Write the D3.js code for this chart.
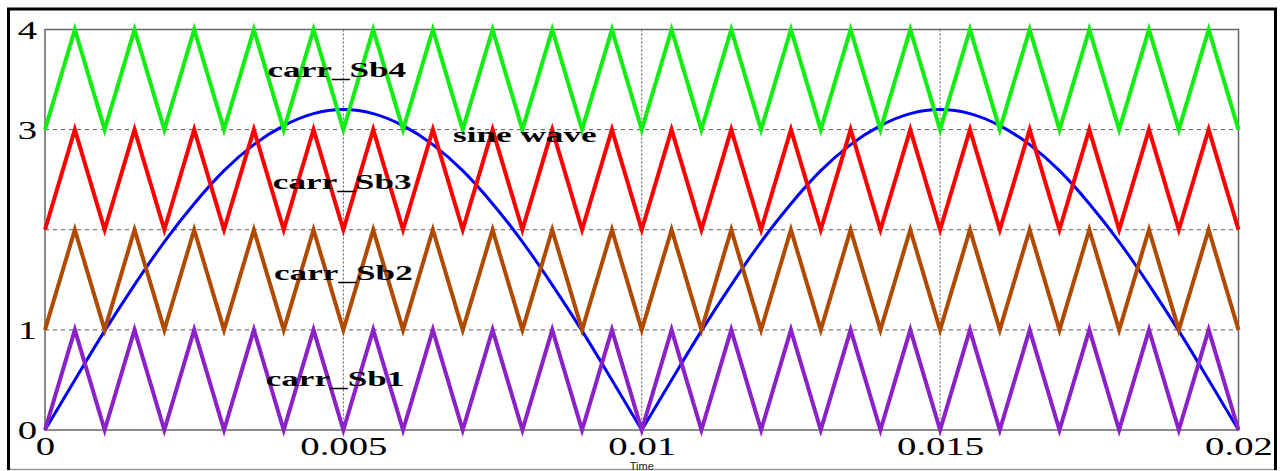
<!DOCTYPE html>
<html>
<head>
<meta charset="utf-8">
<script src="https://cdn.jsdelivr.net/npm/d3@7"></script>
<style>
  body { margin: 0; background: #fff; }
  svg { display: block; }
</style>
</head>
<body>
<div id="chart"></div>
<script>
// carrier vertex times (s), one vertex every half carrier period
var vertexTimes = [0, 0.0005, 0.001, 0.0015, 0.002, 0.0025, 0.003, 0.0035, 0.004, 0.0045,
    0.005, 0.0055, 0.006, 0.0065, 0.007, 0.0075, 0.008, 0.0085, 0.009, 0.0095,
    0.01, 0.0105, 0.011, 0.0115, 0.012, 0.0125, 0.013, 0.0135, 0.014, 0.0145,
    0.015, 0.0155, 0.016, 0.0165, 0.017, 0.0175, 0.018, 0.0185, 0.019, 0.0195, 0.02];

var carrSb1 = [0, 1, 0, 1, 0, 1, 0, 1, 0, 1, 0, 1, 0, 1, 0, 1, 0, 1, 0, 1, 0,
    1, 0, 1, 0, 1, 0, 1, 0, 1, 0, 1, 0, 1, 0, 1, 0, 1, 0, 1, 0];
var carrSb2 = [1, 2, 1, 2, 1, 2, 1, 2, 1, 2, 1, 2, 1, 2, 1, 2, 1, 2, 1, 2, 1,
    2, 1, 2, 1, 2, 1, 2, 1, 2, 1, 2, 1, 2, 1, 2, 1, 2, 1, 2, 1];
var carrSb3 = [2, 3, 2, 3, 2, 3, 2, 3, 2, 3, 2, 3, 2, 3, 2, 3, 2, 3, 2, 3, 2,
    3, 2, 3, 2, 3, 2, 3, 2, 3, 2, 3, 2, 3, 2, 3, 2, 3, 2, 3, 2];
var carrSb4 = [3, 4, 3, 4, 3, 4, 3, 4, 3, 4, 3, 4, 3, 4, 3, 4, 3, 4, 3, 4, 3,
    4, 3, 4, 3, 4, 3, 4, 3, 4, 3, 4, 3, 4, 3, 4, 3, 4, 3, 4, 3];

// sine wave at the same times
var sineWave = [0, 0.50, 0.99, 1.45, 1.88, 2.26, 2.59, 2.85, 3.04, 3.16,
    3.2, 3.16, 3.04, 2.85, 2.59, 2.26, 1.88, 1.45, 0.99, 0.50,
    0, 0.50, 0.99, 1.45, 1.88, 2.26, 2.59, 2.85, 3.04, 3.16,
    3.2, 3.16, 3.04, 2.85, 2.59, 2.26, 1.88, 1.45, 0.99, 0.50, 0];

var xTicks = [0, 0.005, 0.01, 0.015, 0.02];
var xTickLabels = ["0", "0.005", "0.01", "0.015", "0.02"];
var yTicks = [0, 1, 3, 4];
var yGrid = [1, 2, 3];
var xGrid = [0.005, 0.01, 0.015];

var seriesNames = ["carr_Sb1", "carr_Sb2", "carr_Sb3", "carr_Sb4"];
var seriesColors = ["#8a22c8", "#b04a00", "#ff0000", "#11ee11"];

var W = 1280, H = 471;
var plot = { left: 45, right: 1238.5, top: 29.5, bottom: 430 };
var stretch = 1.55; // the picture's text is stretched sideways

var x = d3.scaleLinear().domain([0, 0.02]).range([plot.left, plot.right]);
var y = d3.scaleLinear().domain([0, 4]).range([plot.bottom, plot.top]);

var svg = d3.select("#chart").append("svg")
    .attr("width", W)
    .attr("height", H);

// outer frame
svg.append("line")
    .attr("x1", 8).attr("x2", 1277).attr("y1", 469.5).attr("y2", 469.5)
    .style("stroke", "#999").style("stroke-width", 1.5);
svg.append("path")
    .attr("d", "M8.5,470 V9 H1275.5 V470")
    .style("fill", "none")
    .style("stroke", "#000")
    .style("stroke-width", 3);

// grid
svg.selectAll(".hgrid")
    .data(yGrid)
    .enter().append("line")
    .attr("class", "hgrid")
    .attr("x1", plot.left).attr("x2", plot.right)
    .attr("y1", function (d) { return y(d); })
    .attr("y2", function (d) { return y(d); })
    .style("stroke", "#555")
    .style("stroke-width", 1)
    .style("stroke-dasharray", "4,4");

svg.selectAll(".vgrid")
    .data(xGrid)
    .enter().append("line")
    .attr("class", "vgrid")
    .attr("x1", function (d) { return x(d); })
    .attr("x2", function (d) { return x(d); })
    .attr("y1", plot.top).attr("y2", plot.bottom)
    .style("stroke", "#555")
    .style("stroke-width", 1)
    .style("stroke-dasharray", "2,2");

// plot box
svg.append("rect")
    .attr("x", plot.left).attr("y", plot.top)
    .attr("width", plot.right - plot.left)
    .attr("height", plot.bottom - plot.top)
    .style("fill", "none")
    .style("stroke", "#666")
    .style("stroke-width", 1.5);

// sine wave, drawn per half period so the cusp stays sharp
var sineLine = d3.line()
    .x(function (d) { return x(d[0]); })
    .y(function (d) { return y(d[1]); })
    .curve(d3.curveMonotoneX);

var sinePts = vertexTimes.map(function (t, i) { return [t, sineWave[i]]; });
[sinePts.slice(0, 21), sinePts.slice(20)].forEach(function (half) {
    svg.append("path")
        .attr("d", sineLine(half))
        .style("fill", "none")
        .style("stroke", "#0000ff")
        .style("stroke-width", 3);
});

// carriers
var carriers = [carrSb1, carrSb2, carrSb3, carrSb4];
var carrLine = d3.line()
    .x(function (d) { return x(d[0]); })
    .y(function (d) { return y(d[1]); });

carriers.forEach(function (vals, k) {
    svg.append("path")
        .attr("class", "carrier " + seriesNames[k])
        .attr("d", carrLine(vertexTimes.map(function (t, i) { return [t, vals[i]]; })))
        .style("fill", "none")
        .style("stroke", seriesColors[k])
        .style("stroke-width", 4)
        .style("stroke-linejoin", "miter");
});

// axes
var xAxis = d3.axisBottom(x)
    .tickValues(xTicks)
    .tickSize(0)
    .tickFormat(function (d, i) { return xTickLabels[i]; });

var gx = svg.append("g")
    .attr("transform", "translate(0," + plot.bottom + ")")
    .call(xAxis);
gx.select(".domain").remove();
gx.selectAll("text")
    .attr("y", 25)
    .attr("dy", 0)
    .attr("transform", "scale(" + stretch + ",1)")
    .style("font-family", "'Liberation Serif', 'Times New Roman', serif")
    .style("font-size", "25px")
    .style("fill", "#000");

var yAxis = d3.axisLeft(y)
    .tickValues(yTicks)
    .tickSize(0)
    .tickFormat(d3.format("d"));

var gy = svg.append("g")
    .attr("transform", "translate(" + plot.left + ",0)")
    .call(yAxis);
gy.select(".domain").remove();
gy.selectAll("text")
    .attr("x", -8 / stretch)
    .attr("dy", "0.34em")
    .attr("transform", "scale(" + stretch + ",1)")
    .style("font-family", "'Liberation Serif', 'Times New Roman', serif")
    .style("font-size", "25px")
    .style("fill", "#000");

// x axis title
svg.append("text")
    .attr("x", x(0.01))
    .attr("y", 470)
    .attr("text-anchor", "middle")
    .style("font-family", "'Liberation Sans', Arial, sans-serif")
    .style("font-size", "11px")
    .style("fill", "#222")
    .text("Time");

// in-plot labels (time, value of the text baseline centre)
var labelTexts = ["carr_Sb4", "sine wave", "carr_Sb3", "carr_Sb2", "carr_Sb1"];
var labelPos = [[0.00489, 3.53], [0.00804, 2.88], [0.00498, 2.41], [0.0050, 1.50], [0.00486, 0.44]];

svg.selectAll(".lbl")
    .data(labelTexts)
    .enter().append("text")
    .attr("class", "lbl")
    .attr("transform", function (d, i) {
        return "translate(" + x(labelPos[i][0]) + "," + y(labelPos[i][1]) + ") scale(1.6,1)";
    })
    .attr("text-anchor", "middle")
    .style("font-family", "'Liberation Serif', 'Times New Roman', serif")
    .style("font-weight", "bold")
    .style("font-size", "22px")
    .style("fill", "#000")
    .text(function (d) { return d; });
</script>
</body>
</html>
